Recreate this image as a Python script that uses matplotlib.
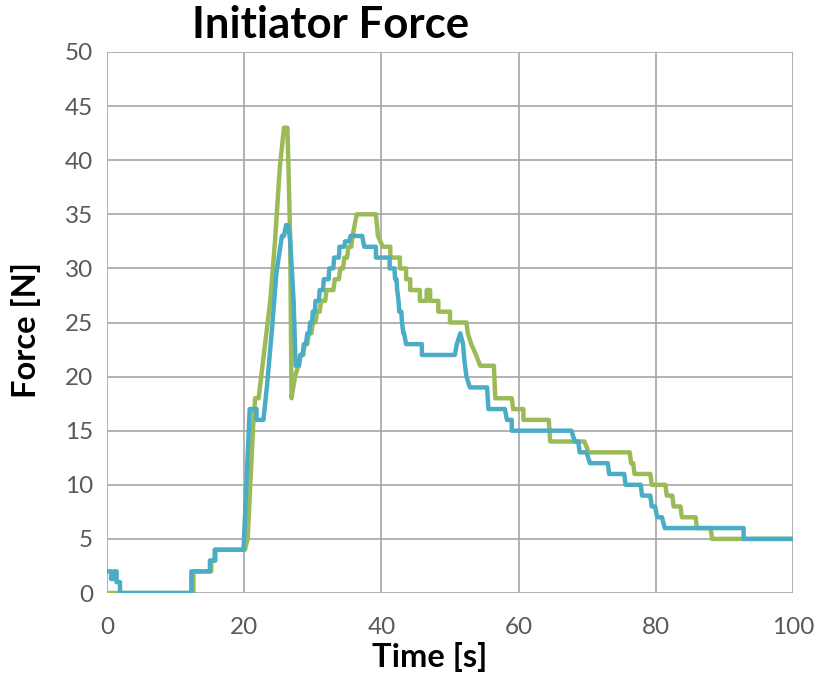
import matplotlib
matplotlib.use("Agg")
import matplotlib.pyplot as plt

plt.rcParams['font.family'] = ['Lato', 'DejaVu Sans']

# Trial 1 (green) - time [s] and force [N]
green_time = [0, 12.6, 12.6, 15.2, 15.2, 15.8, 15.8, 20.1, 20.5, 21.3, 21.6, 22.1,
              23.8, 24.5, 25.2, 25.8, 26.3, 26.7, 26.9, 27.4, 27.9, 28.2, 28.6, 28.8,
              29.2, 29.4, 29.8, 30.0, 30.4, 30.6, 31.0, 31.2, 31.8, 32.0, 33.0, 33.2,
              33.8, 34.0, 34.4, 34.6, 35.0, 35.2, 35.6, 35.8, 36.1, 36.4, 39.2,
              39.5, 40.2, 41.3, 41.3, 42.7, 42.7, 43.6, 43.6, 44.2, 44.2, 45.6, 45.6,
              46.6, 46.6, 47.1, 47.1, 48.3, 48.3, 50.0, 50.0, 52.4, 52.6, 53.1, 53.8,
              54.4, 56.4, 56.6, 59.0, 59.2, 60.7, 60.7, 64.4, 64.6, 69.6, 70.2, 76.2,
              76.4, 76.7, 76.9, 79.2, 79.4, 81.4, 81.6, 82.4, 82.6, 83.6, 83.8, 85.8,
              86.0, 88.0, 88.2, 100]
green_force = [0, 0, 2, 2, 3, 3, 4, 4, 5, 15.4, 18, 18,
               27, 32.6, 39.4, 43, 43, 33, 18, 20, 21, 22, 22, 23,
               23, 24, 24, 25, 25, 26, 26, 27, 27, 28, 28, 29,
               29, 30, 30, 31, 31, 32, 32, 33, 34, 35, 35,
               33, 32, 32, 31, 31, 30, 30, 29, 29, 28, 28, 27,
               27, 28, 28, 27, 27, 26, 26, 25, 25, 24, 23, 22,
               21, 21, 18, 18, 17, 17, 16, 16, 14, 14, 13, 13,
               12, 12, 11, 11, 10, 10, 9, 9, 8, 8, 7, 7,
               6, 6, 5, 5]

# Trial 2 (blue) - time [s] and force [N]
blue_time = [0, 0.6, 0.6, 1.0, 1.0, 1.4, 1.4, 1.9, 1.9, 12.3, 12.3, 15.0, 15.0, 15.7,
             15.7, 19.9, 20.8, 21.8, 21.8, 22.8, 23.3, 24.0, 24.7, 25.5, 25.8, 26.1,
             26.4, 26.7, 27.2, 27.5, 28.0, 28.2, 28.5, 28.7, 29.0, 29.2, 29.5, 29.6,
             29.9, 30.0, 30.3, 30.4, 30.9, 31.0, 31.5, 31.6, 32.3, 32.4, 33.0, 33.1,
             33.8, 33.9, 34.6, 34.7, 35.3, 35.5, 37.2, 37.5, 39.2, 39.2, 41.2, 41.2,
             41.9, 42.0, 42.2, 42.3, 42.5, 42.6, 42.9, 43.0, 43.2, 43.3, 43.6,
             45.9, 45.9, 50.7, 51.0, 51.5, 51.9, 52.1, 52.4, 52.9,
             55.4, 55.6, 58.0, 58.3, 59.0, 59.0, 67.7, 68.2, 68.7, 68.9, 69.9, 70.4,
             73.0, 73.2, 75.4, 75.6, 77.8, 78.0, 79.2, 79.4, 79.9, 80.2, 80.9, 81.3,
             92.8, 92.8, 100]
blue_force = [2, 2, 1.3, 1.3, 2, 2, 1, 1, 0, 0, 2, 2, 3, 3,
              4, 4, 17, 17, 16, 16, 19, 24, 29.6, 33, 33, 34,
              34, 32.6, 27, 21, 21, 22, 22, 23, 23, 24, 24, 25,
              25, 26, 26, 27, 27, 28, 28, 29, 29, 30, 30, 31,
              31, 32, 32, 32.5, 32.5, 33, 33, 32, 32, 31, 31, 30,
              30, 29, 29, 28, 27, 26, 26, 25, 24, 24, 23,
              23, 22, 22, 23, 24, 23, 21.5, 20, 19,
              19, 17, 17, 16, 16, 15, 15, 14, 14, 13, 13, 12,
              12, 11, 11, 10, 10, 9, 9, 8, 8, 7, 7, 6,
              6, 5, 5]

x_ticks = [0, 20, 40, 60, 80, 100]
y_ticks = [0, 5, 10, 15, 20, 25, 30, 35, 40, 45, 50]

W, H = 815, 678
fig = plt.figure(figsize=(W / 100, H / 100), dpi=100)
ax = fig.add_axes([107 / W, 1 - 593 / H, (793 - 107) / W, (593 - 52) / H])

ax.plot(green_time, green_force, color='#9BBB59', lw=3.2, solid_joinstyle='round',
        solid_capstyle='round', zorder=3)
ax.plot(blue_time, blue_force, color='#4BACC6', lw=3.2, solid_joinstyle='round',
        solid_capstyle='round', zorder=4)

ax.set_xlim(0, 100)
ax.set_ylim(0, 50)
ax.set_xticks(x_ticks)
ax.set_yticks(y_ticks)
ax.grid(True, color='#A6A6A6', lw=1.2)
ax.set_axisbelow(True)
for s in ax.spines.values():
    s.set_visible(False)
ax.tick_params(length=0, labelsize=17.5, labelcolor='#595959')
ax.tick_params(axis='y', pad=10)
ax.tick_params(axis='x', pad=17)

fig.text(331 / W, 1 - 38 / H, 'Initiator Force', ha='center', va='baseline',
         fontsize=31.5, fontweight='bold', color='black')
fig.text(430 / W, 1 - 667 / H, 'Time [s]', ha='center', va='baseline',
         fontsize=23.5, fontweight='bold', color='black')
fig.text(26 / W, 1 - 330 / H, 'Force [N]', ha='center', va='center', rotation=90,
         fontsize=23.5, fontweight='bold', color='black')

fig.savefig('out.png', dpi=100)
